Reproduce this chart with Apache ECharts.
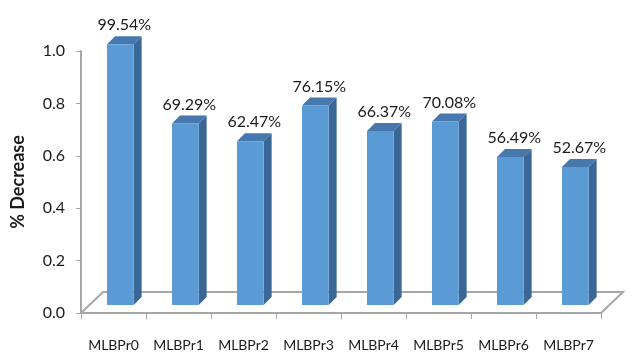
<!DOCTYPE html>
<html>
<head>
<meta charset="utf-8">
<script src="https://cdn.jsdelivr.net/npm/echarts@6/dist/echarts.min.js"></script>
<style>
	html, body { margin: 0; padding: 0; background: #fff; }
	#decrease-chart { width: 632px; height: 364px; }
</style>
</head>
<body>
<div id="decrease-chart"></div>
<script>
	"use strict";

	// ______________ DATA
	var categories = ['MLBPr0', 'MLBPr1', 'MLBPr2', 'MLBPr3', 'MLBPr4', 'MLBPr5', 'MLBPr6', 'MLBPr7'];
	var decreaseValues = [0.9954, 0.6929, 0.6247, 0.7615, 0.6637, 0.7008, 0.5649, 0.5267];
	var yTicks = [0, 0.2, 0.4, 0.6, 0.8, 1.0];

	var FONT = 'Lato, "Open Sans", sans-serif';
	var FRONT = '#5b9bd5';
	var SIDE = '#3a6796';
	var TOP = '#4677ad';

	// depth of the floor and of each bar, in pixels
	var FLOOR_DX = 22, FLOOR_DY = 21;
	var BAR_DX = 8, BAR_DY = 8;

	// ______________ 3D BAR
	function renderBar(params, api) {
		var idx = api.value(0);
		var val = api.value(1);
		var top = api.coord([idx, val]);
		var base = api.coord([idx, 0]);
		var band = api.size([1, 0])[0];
		var x0 = top[0] - band * 0.1;
		var x1 = x0 + band * 0.41;
		var yB = base[1] - 8;
		var yT = top[1] - 8;
		return {
			type: 'group',
			children: [{
				type: 'polygon',
				shape: { points: [[x1, yB], [x1 + BAR_DX, yB - BAR_DY], [x1 + BAR_DX, yT - BAR_DY], [x1, yT]] },
				style: { fill: SIDE }
			}, {
				type: 'polygon',
				shape: { points: [[x0, yT], [x1, yT], [x1 + BAR_DX, yT - BAR_DY], [x0 + BAR_DX, yT - BAR_DY]] },
				style: { fill: TOP }
			}, {
				type: 'rect',
				shape: { x: x0, y: yT, width: x1 - x0, height: yB - yT },
				style: { fill: FRONT }
			}, {
				type: 'text',
				style: {
					x: (x0 + x1 + BAR_DX) / 2,
					y: yT - BAR_DY - 3,
					text: (val * 100).toFixed(2) + '%',
					align: 'center',
					verticalAlign: 'bottom',
					fill: '#1a1a1a',
					font: '16px ' + FONT
				}
			}]
		};
	}

	// ______________ FLOOR
	function renderFloor(params, api) {
		var first = api.coord([0, 0]);
		var last = api.coord([categories.length - 1, 0]);
		var band = api.size([1, 0])[0];
		var l = first[0] - band / 2;
		var r = last[0] + band / 2;
		var y = first[1];
		return {
			type: 'polygon',
			shape: { points: [[l, y], [r, y], [r + FLOOR_DX, y - FLOOR_DY], [l + FLOOR_DX, y - FLOOR_DY]] },
			style: { fill: '#fff', stroke: '#a6a6a6', lineWidth: 2 },
			z2: -1
		};
	}

	var chart = echarts.init(document.getElementById('decrease-chart'), null, { renderer: 'canvas' });
	chart.setOption({
		animation: false,
		textStyle: { fontFamily: FONT },
		grid: { left: 81, right: 31, top: 51, bottom: 51 },
		xAxis: {
			type: 'category',
			data: categories,
			axisLine: { lineStyle: { color: '#a6a6a6', width: 2 } },
			axisTick: { show: true, length: 6, lineStyle: { color: '#a6a6a6' } },
			axisLabel: { interval: 0, margin: 25, fontSize: 14, color: '#1a1a1a', fontFamily: FONT }
		},
		yAxis: {
			type: 'value',
			min: yTicks[0],
			max: yTicks[yTicks.length - 1],
			interval: 0.2,
			name: '% Decrease',
			nameLocation: 'middle',
			nameGap: 54,
			nameTextStyle: { fontSize: 18, fontWeight: 'bold', color: '#1a1a1a', fontFamily: FONT },
			axisLine: { show: true, lineStyle: { color: '#a6a6a6', width: 2 } },
			axisTick: { show: true, length: 5, lineStyle: { color: '#a6a6a6' } },
			splitLine: { show: false },
			axisLabel: {
				margin: 16,
				fontSize: 16,
				color: '#1a1a1a',
				fontFamily: FONT,
				formatter: function(v) { return v.toFixed(1); }
			}
		},
		series: [{
			type: 'custom',
			renderItem: renderFloor,
			data: [[0, 0]],
			clip: false,
			silent: true,
			z: 1
		}, {
			type: 'custom',
			renderItem: renderBar,
			data: decreaseValues.map(function(v, i) { return [i, v]; }),
			clip: false,
			z: 2
		}]
	});
</script>
</body>
</html>
